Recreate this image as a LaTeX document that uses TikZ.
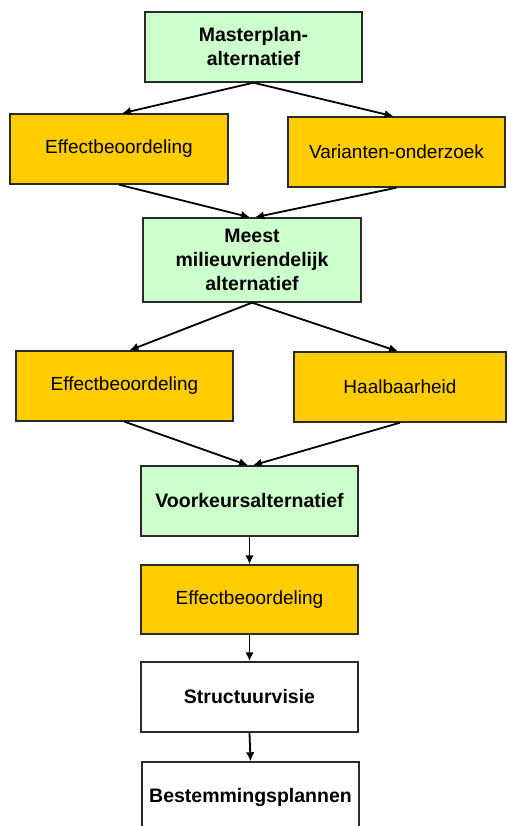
\documentclass[tikz,border=0pt]{standalone}
\usepackage{fontspec}
\setmainfont{Liberation Sans}
\usetikzlibrary{arrows.meta}
\definecolor{lgreen}{HTML}{CCFFCC}
\definecolor{gold}{HTML}{FFCC00}
\definecolor{edge}{HTML}{2A2A2A}
\tikzset{
  boxbase/.style={draw=edge, line width=1.4pt, rectangle, inner sep=2pt, align=center,
    minimum width=217pt, minimum height=70pt, text=black},
  greenbox/.style={boxbase, fill=lgreen, font=\fontsize{19.5}{24}\selectfont\bfseries},
  goldbox/.style={boxbase, fill=gold, font=\fontsize{19}{24}\selectfont},
  whitebox/.style={boxbase, fill=white, font=\fontsize{19.5}{24}\selectfont\bfseries},
  conn/.style={draw=black, line width=1.8pt, -{Latex[length=9pt,width=8.5pt]}}
}
\begin{document}
\begin{tikzpicture}[x=1pt,y=-1pt]
\useasboundingbox (0,0) rectangle (507,826);
\fill[white] (0,0) rectangle (507,826);
\node[greenbox] (mp) at (253.5,47) {Masterplan-\\alternatief};
\node[goldbox, minimum width=218pt] (eb1) at (119,149) {Effectbeoordeling};
\node[goldbox] (vo) at (396.5,152) {Varianten-onderzoek};
\node[greenbox, minimum width=218pt, minimum height=84pt] (mma) at (252,260) {Meest\\milieuvriendelijk\\alternatief};
\node[goldbox] (eb2) at (124.5,386) {Effectbeoordeling};
\node[goldbox, minimum width=212pt] (hb) at (400,387) {Haalbaarheid};
\node[greenbox] (vka) at (249.5,501) {Voorkeursalternatief};
\node[goldbox, minimum height=69pt] (eb3) at (249.5,599.5) {Effectbeoordeling};
\node[whitebox] (sv) at (249.5,697) {Structuurvisie};
\node[whitebox] (bp) at (250.5,797) {Bestemmingsplannen};
\draw[conn] (mp.south) -- ([xshift=3pt]eb1.north);
\draw[conn] (mp.south) -- ([xshift=-3pt]vo.north);
\draw[conn] (eb1.south) -- ([xshift=-2pt]mma.north);
\draw[conn] (vo.south) -- ([xshift=3pt]mma.north);
\draw[conn] (mma.south) -- ([xshift=5pt]eb2.north);
\draw[conn] (mma.south) -- ([xshift=-2pt]hb.north);
\draw[conn] (eb2.south) -- ([xshift=-1.5pt]vka.north);
\draw[conn] (hb.south) -- ([xshift=3.5pt]vka.north);
\draw[conn] (vka.south) -- (eb3.north);
\draw[conn] (eb3.south) -- (sv.north);
\draw[conn] (sv.south) -- (bp.north);
\end{tikzpicture}
\end{document}
